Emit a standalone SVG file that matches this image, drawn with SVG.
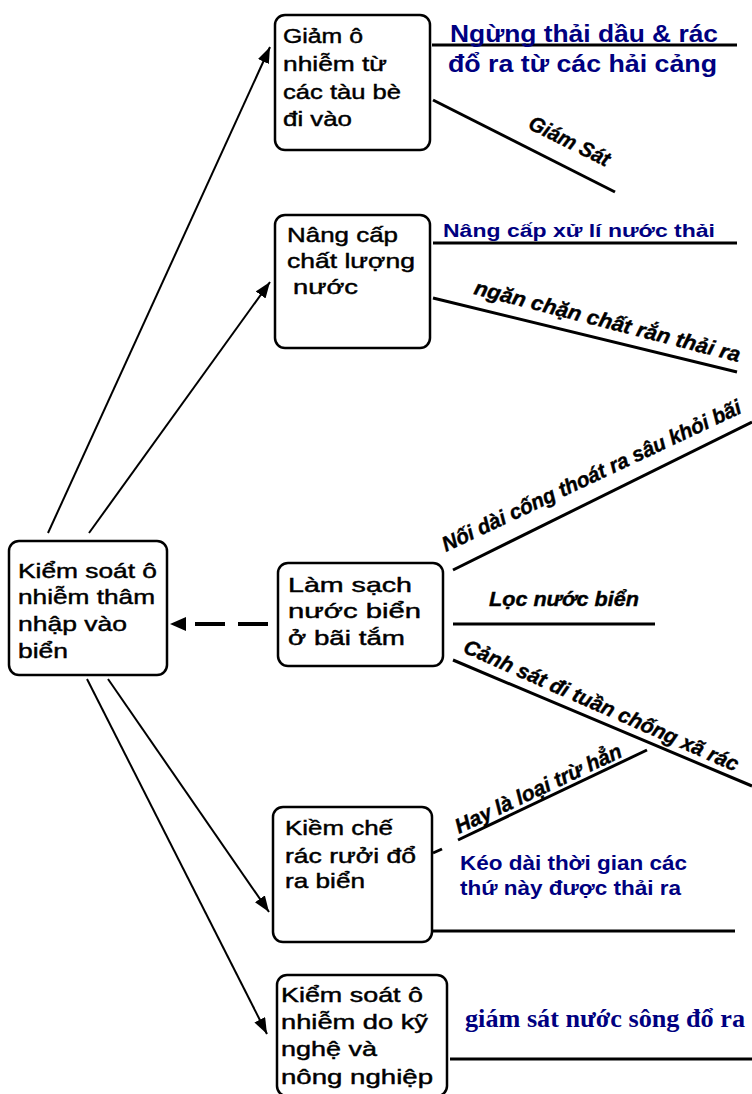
<svg xmlns="http://www.w3.org/2000/svg" width="752" height="1094" viewBox="0 0 752 1094">
<style>
.box{fill:#fff;stroke:#000;stroke-width:2.5}
.bt{font-family:"Liberation Sans",Arial,sans-serif;font-size:21px;fill:#000;stroke:#000;stroke-width:0.45}
.blue{font-family:"Liberation Sans",Arial,sans-serif;font-weight:bold;fill:#000080}
.bser{font-family:"Liberation Serif","Times New Roman",serif;font-weight:bold;fill:#000080}
.bi{font-family:"Liberation Sans",Arial,sans-serif;font-weight:bold;font-style:italic;fill:#000;font-size:21px;stroke:#000;stroke-width:0.4}
.br{stroke:#000;stroke-width:3;fill:none}
.con{stroke:#000;stroke-width:2;fill:none}
</style>
<defs>
<marker id="ah" viewBox="0 0 16 12" refX="16" refY="6" markerWidth="16" markerHeight="12" markerUnits="userSpaceOnUse" orient="auto">
<path d="M0,0 L16,6 L0,12 z" fill="#000"/>
</marker>
</defs>
<g id="connectors">
<line class="con" x1="48" y1="533" x2="270" y2="47" marker-end="url(#ah)"/>
<line class="con" x1="89" y1="533" x2="270" y2="282" marker-end="url(#ah)"/>
<line class="con" x1="108" y1="679" x2="269" y2="912" marker-end="url(#ah)"/>
<line class="con" x1="87" y1="679" x2="267" y2="1034" marker-end="url(#ah)"/>
<line x1="268" y1="624" x2="194" y2="624" stroke="#000" stroke-width="4" stroke-dasharray="30 13"/>
<polygon points="170,624 186,617 186,631" fill="#000"/>
</g>
<g id="branches">
<line class="br" x1="432" y1="45" x2="737" y2="45"/>
<line class="br" x1="433" y1="100" x2="615" y2="192"/>
<line class="br" x1="433" y1="243" x2="737" y2="243"/>
<line class="br" x1="433" y1="298" x2="737" y2="372"/>
<line class="br" x1="453" y1="570" x2="752" y2="422"/>
<line class="br" x1="453" y1="624" x2="655" y2="624"/>
<line class="br" x1="453" y1="660" x2="752" y2="786"/>
<line class="br" x1="458" y1="840" x2="647" y2="750"/>
<line class="br" x1="433" y1="853" x2="442" y2="849"/>
<line class="br" x1="432" y1="931" x2="735" y2="931"/>
<line class="br" x1="450" y1="1059" x2="752" y2="1059"/>
</g>
<g id="node-main">
<rect class="box" x="9" y="541" width="158" height="134" rx="10"/>
<text class="bt" x="18" y="578" textLength="139" lengthAdjust="spacingAndGlyphs">Kiểm soát ô</text>
<text class="bt" x="18" y="604" textLength="137" lengthAdjust="spacingAndGlyphs">nhiễm thâm</text>
<text class="bt" x="18" y="631" textLength="109" lengthAdjust="spacingAndGlyphs">nhập vào</text>
<text class="bt" x="18" y="658" textLength="50" lengthAdjust="spacingAndGlyphs">biển</text>
</g>
<g id="node-tau">
<rect class="box" x="275" y="15" width="155" height="135" rx="10"/>
<text class="bt" x="283" y="43" textLength="80" lengthAdjust="spacingAndGlyphs">Giảm ô</text>
<text class="bt" x="283" y="71" textLength="104" lengthAdjust="spacingAndGlyphs">nhiễm từ</text>
<text class="bt" x="283" y="99" textLength="118" lengthAdjust="spacingAndGlyphs">các tàu bè</text>
<text class="bt" x="283" y="126" textLength="69" lengthAdjust="spacingAndGlyphs">đi vào</text>
</g>
<g id="node-nuoc">
<rect class="box" x="275" y="215" width="155" height="133" rx="10"/>
<text class="bt" x="287" y="242" textLength="111" lengthAdjust="spacingAndGlyphs">Nâng cấp</text>
<text class="bt" x="287" y="268" textLength="128" lengthAdjust="spacingAndGlyphs">chất lượng</text>
<text class="bt" x="293" y="294" textLength="65" lengthAdjust="spacingAndGlyphs">nước</text>
</g>
<g id="node-baitam">
<rect class="box" x="278" y="563" width="165" height="103" rx="10"/>
<text class="bt" x="288" y="592" textLength="124" lengthAdjust="spacingAndGlyphs">Làm sạch</text>
<text class="bt" x="288" y="618" textLength="133" lengthAdjust="spacingAndGlyphs">nước biển</text>
<text class="bt" x="288" y="645" textLength="117" lengthAdjust="spacingAndGlyphs">ở bãi tắm</text>
</g>
<g id="node-rac">
<rect class="box" x="273" y="807" width="159" height="135" rx="10"/>
<text class="bt" x="285" y="835" textLength="108" lengthAdjust="spacingAndGlyphs">Kiềm chế</text>
<text class="bt" x="285" y="863" textLength="131" lengthAdjust="spacingAndGlyphs">rác rưởi đổ</text>
<text class="bt" x="285" y="888" textLength="80" lengthAdjust="spacingAndGlyphs">ra biển</text>
</g>
<g id="node-kynghe">
<rect class="box" x="277" y="975" width="170" height="121" rx="10"/>
<text class="bt" x="281" y="1002" textLength="142" lengthAdjust="spacingAndGlyphs">Kiểm soát ô</text>
<text class="bt" x="281" y="1029" textLength="147" lengthAdjust="spacingAndGlyphs">nhiễm do kỹ</text>
<text class="bt" x="281" y="1056" textLength="96" lengthAdjust="spacingAndGlyphs">nghệ và</text>
<text class="bt" x="281" y="1084" textLength="152" lengthAdjust="spacingAndGlyphs">nông nghiệp</text>
</g>
<g id="labels">
<text class="blue" x="450" y="42" font-size="24" textLength="268" lengthAdjust="spacingAndGlyphs">Ngừng thải dầu &amp; rác</text>
<text class="blue" x="448" y="72" font-size="24" textLength="269" lengthAdjust="spacingAndGlyphs">đổ ra từ các hải cảng</text>
<text class="blue" x="443" y="237" font-size="18" textLength="272" lengthAdjust="spacingAndGlyphs">Nâng cấp xử lí nước thải</text>
<text class="blue" x="460" y="870" font-size="20" textLength="227" lengthAdjust="spacingAndGlyphs">Kéo dài thời gian các</text>
<text class="blue" x="460" y="895" font-size="20" textLength="221" lengthAdjust="spacingAndGlyphs">thứ này được thải ra</text>
<text class="bser" x="465" y="1027" font-size="26" textLength="280" lengthAdjust="spacingAndGlyphs">giám sát nước sông đổ ra</text>
<text class="bi" font-size="20" transform="translate(527,128) rotate(26.3)" textLength="88" lengthAdjust="spacingAndGlyphs">Giám Sát</text>
<text class="bi" font-size="22" transform="translate(473,294) rotate(14.4)" textLength="274" lengthAdjust="spacingAndGlyphs">ngăn chặn chất rắn thải ra</text>
<text class="bi" transform="translate(446,552) rotate(-25.2)" textLength="328" lengthAdjust="spacingAndGlyphs">Nối dài cống thoát ra sâu khỏi bãi</text>
<text class="bi" x="489" y="606" textLength="150" lengthAdjust="spacingAndGlyphs">Lọc nước biển</text>
<text class="bi" transform="translate(462,652) rotate(23.7)" textLength="298" lengthAdjust="spacingAndGlyphs">Cảnh sát đi tuần chống xã rác</text>
<text class="bi" transform="translate(459,834) rotate(-25.3)" textLength="182" lengthAdjust="spacingAndGlyphs">Hay là loại trừ hẳn</text>
</g>
</svg>
